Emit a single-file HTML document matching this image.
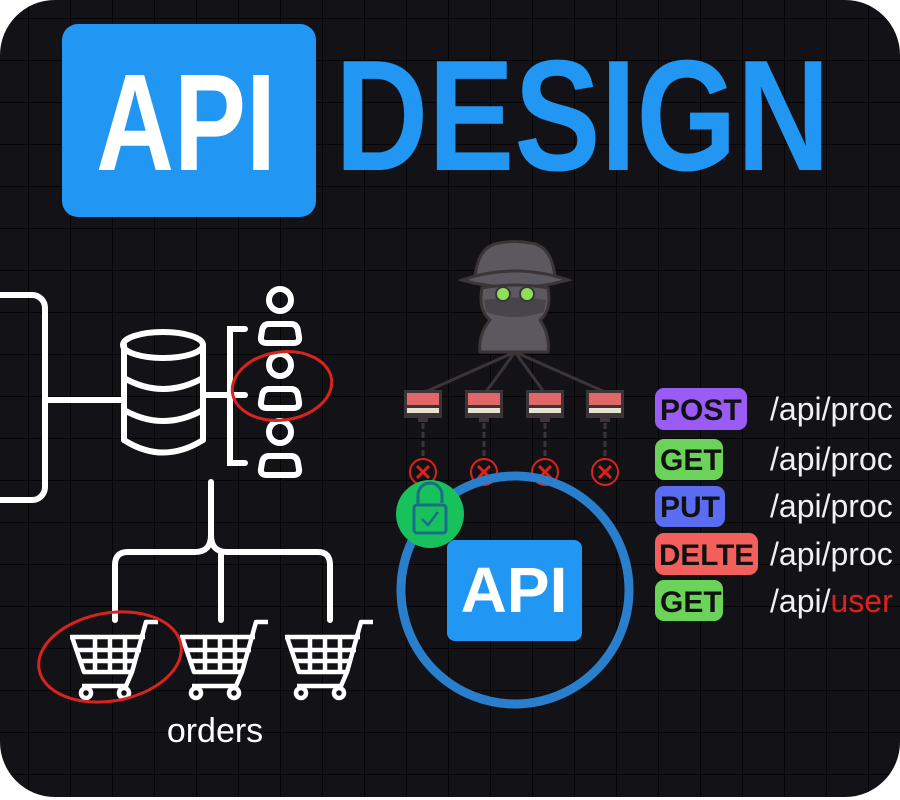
<!DOCTYPE html>
<html><head><meta charset="utf-8"><style>
html,body{margin:0;padding:0;background:#fff;}
svg{display:block;}
</style></head><body>
<svg width="900" height="800" viewBox="0 0 900 800" xmlns="http://www.w3.org/2000/svg">
<defs>
<pattern id="g" x="28" y="18" width="42" height="42" patternUnits="userSpaceOnUse">
<path d="M0 0H42M0 0V42" stroke="#050507" stroke-width="2" fill="none"/>
</pattern>
<clipPath id="c"><rect x="0" y="0" width="900" height="797" rx="55"/></clipPath>
</defs>
<g clip-path="url(#c)">
<rect width="900" height="800" fill="#131217"/>
<rect width="900" height="800" fill="url(#g)"/>

<!-- title -->
<rect x="62" y="24" width="254" height="193" rx="16" fill="#2196f3"/>
<text x="96" y="170" font-family="Liberation Sans, sans-serif" font-weight="bold" font-size="138" fill="#fff" textLength="180" lengthAdjust="spacingAndGlyphs">API</text>
<text x="335" y="170" font-family="Liberation Sans, sans-serif" font-weight="bold" font-size="158" fill="#2196f3" textLength="495" lengthAdjust="spacingAndGlyphs">DESIGN</text>

<!-- left diagram -->
<g stroke="#fff" stroke-width="6" fill="none" stroke-linecap="round">
<path d="M-10 295 H32 a13 13 0 0 1 13 13 V487 a13 13 0 0 1 -13 13 H-10"/>
<path d="M45 400 H122"/>
<path d="M124 345 V440"/>
<path d="M203 345 V440"/>
<ellipse cx="163" cy="345" rx="40" ry="13"/>
<path d="M124 378 Q163 400 203 378"/>
<path d="M124 410 Q163 432 203 410"/>
<path d="M124 440 Q163 465 203 440"/>
<path d="M205 395 H230"/>
<path d="M245 329 H230 V463 H245"/>
<path d="M230 395 H245"/>
<g id="per">
<circle cx="280" cy="300" r="11"/>
<path d="M269 324 H291 Q297 324 298 331 L299 337 Q300 343 293 343 H267 Q260 343 261 337 L262 331 Q263 324 269 324Z"/>
</g>
<use href="#per" y="65"/>
<use href="#per" y="132"/>
<path d="M211 482 V535 Q211 552 195 552 H128 Q115 552 115 565 V620"/>
<path d="M211 535 Q211 552 227 552 H318 Q330 552 330 565 V620"/>
<path d="M221 552 V620"/>
</g>
<g stroke="#fff" stroke-width="4.5" fill="none" stroke-linejoin="round">
<g id="cart">
<path d="M70 637 H145 M72 637 L84 672 H132 L146 622 H158 M132 672 L126 686 H82"/>
<path d="M77 650 H141 M80 661 H137 M95 637 V672 M110 637 V672 M125 637 V672"/>
<circle cx="86" cy="693" r="5"/><circle cx="124" cy="693" r="5"/>
</g>
<use href="#cart" x="110"/>
<use href="#cart" x="215"/>
</g>
<ellipse cx="282" cy="386" rx="50" ry="34" stroke="#d8231f" stroke-width="3" fill="none" transform="rotate(-8 282 386)"/>
<ellipse cx="110" cy="657" rx="72" ry="44" stroke="#d8231f" stroke-width="3" fill="none" transform="rotate(-10 110 657)"/>
<text x="215" y="742" text-anchor="middle" font-family="Liberation Sans, sans-serif" font-size="34" fill="#fff">orders</text>

<!-- hacker -->
<g stroke="#3b3538" stroke-width="3">
<path d="M515 352 L425 392 M515 352 L486 392 M515 352 L544 392 M515 352 L605 392"/>
</g>
<path d="M475 278 Q478 245 500 243 Q515 240 530 243 Q552 245 555 278 Z" fill="#5b5860" stroke="#3b3538" stroke-width="3"/>
<path d="M462 280 Q515 262 568 280 Q515 295 462 280 Z" fill="#5b5860" stroke="#3b3538" stroke-width="3"/>
<path d="M482 288 Q515 282 548 288 Q552 310 540 320 Q550 335 548 352 H480 Q478 335 490 320 Q478 310 482 288 Z" fill="#5b5860" stroke="#3b3538" stroke-width="3"/>
<path d="M484 300 Q515 295 546 300 L544 312 Q515 322 486 312 Z" fill="#47444b"/>
<circle cx="503" cy="294" r="7" fill="#8ee05a" stroke="#3b3538" stroke-width="2"/>
<circle cx="527" cy="294" r="7" fill="#8ee05a" stroke="#3b3538" stroke-width="2"/>
<!-- monitors -->
<g id="mon">
<rect x="404" y="390" width="38" height="28" fill="#3b3538"/>
<rect x="407" y="393" width="32" height="12" fill="#e2676b"/>
<rect x="407" y="408" width="32" height="5" fill="#e8e2d2"/>
<rect x="418" y="418" width="10" height="4" fill="#3b3538"/>
<path d="M423 423 V460" stroke="#3b3538" stroke-width="3" stroke-dasharray="6 3"/>
<circle cx="423" cy="472" r="13" fill="none" stroke="#d8231f" stroke-width="2"/>
<path d="M417 466 L429 478 M429 466 L417 478" stroke="#e0201c" stroke-width="3"/>
</g>
<use href="#mon" x="61"/>
<use href="#mon" x="122"/>
<use href="#mon" x="182"/>

<!-- API circle -->
<circle cx="515" cy="590" r="114" fill="none" stroke="#2a7fcc" stroke-width="9"/>
<rect x="447" y="540" width="135" height="101" rx="8" fill="#2196f3"/>
<text x="514" y="612" text-anchor="middle" font-family="Liberation Sans, sans-serif" font-weight="bold" font-size="64" fill="#fff">API</text>
<circle cx="430" cy="514" r="34" fill="#17c15c"/>
<path d="M418 505 V495 a12 12 0 0 1 24 0 V503" fill="none" stroke="#1b6d8a" stroke-width="3"/>
<rect x="414" y="505" width="32" height="28" rx="3" fill="#17c15c" stroke="#1b6d8a" stroke-width="3"/>
<path d="M422 519 L428 525 L438 512" fill="none" stroke="#1b6d8a" stroke-width="2.5"/>

<!-- endpoints -->
<g font-family="Liberation Sans, sans-serif" font-weight="bold" font-size="30" fill="#111">
<rect x="655" y="388" width="92" height="42" rx="9" fill="#9b5cf6"/>
<text x="660" y="420">POST</text>
<rect x="655" y="439" width="68" height="41" rx="9" fill="#6cd35a"/>
<text x="660" y="470">GET</text>
<rect x="655" y="486" width="70" height="41" rx="9" fill="#5a6cf2"/>
<text x="660" y="517">PUT</text>
<rect x="655" y="533" width="103" height="42" rx="9" fill="#f25f5c"/>
<text x="659" y="565" textLength="95" lengthAdjust="spacingAndGlyphs">DELTE</text>
<rect x="655" y="580" width="68" height="41" rx="9" fill="#6cd35a"/>
<text x="660" y="612">GET</text>
</g>
<g font-family="Liberation Sans, sans-serif" font-size="32" fill="#f0f0f0">
<text x="770" y="420">/api/proc</text>
<text x="770" y="470">/api/proc</text>
<text x="770" y="517">/api/proc</text>
<text x="770" y="565">/api/proc</text>
<text x="770" y="612">/api/<tspan fill="#e0201c">user</tspan></text>
</g>
</g>
</svg>
</body></html>
